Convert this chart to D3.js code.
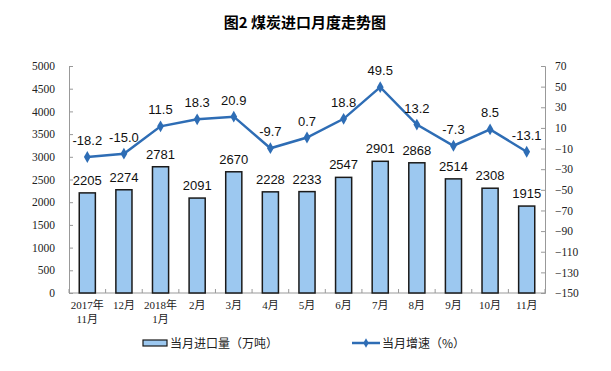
<!DOCTYPE html>
<html lang="zh">
<head>
<meta charset="UTF-8">
<title>煤炭进口月度走势图</title>
<script src="https://cdn.jsdelivr.net/npm/d3@7"></script>
<style>
    body { margin: 0; background: #fff; }
    .tick text { font-family: "Liberation Serif", "Noto Sans CJK SC", serif; font-size: 11.5px; fill: #222; }
    .lbl { font-family: "Liberation Sans", Arial, sans-serif; font-size: 13px; fill: #111; }
</style>
</head>
<body>
<svg width="611" height="371"></svg>
<script>
    var months = ["2017年\n11月", "12月", "2018年\n1月", "2月", "3月", "4月", "5月", "6月", "7月", "8月", "9月", "10月", "11月"];
    var imports = [2205, 2274, 2781, 2091, 2670, 2228, 2233, 2547, 2901, 2868, 2514, 2308, 1915];
    var growth = [-18.2, -15.0, 11.5, 18.3, 20.9, -9.7, 0.7, 18.8, 49.5, 13.2, -7.3, 8.5, -13.1];
    var leftTicks = d3.range(0, 5001, 500);
    var rightTicks = d3.range(-150, 71, 20);

    var svg = d3.select("svg");
    var plotL = 69, plotR = 545, plotT = 66, plotB = 293;

    var x = d3.scaleBand().domain(months).range([plotL, plotR]).paddingInner(0.56).paddingOuter(0.28);
    var yL = d3.scaleLinear().domain([0, 5000]).range([plotB, plotT]);
    var yR = d3.scaleLinear().domain([-150, 70]).range([plotB, plotT]);

    svg.append("text")
        .attr("x", 305).attr("y", 28)
        .attr("text-anchor", "middle")
        .style("font-family", "'Noto Sans CJK SC', sans-serif")
        .style("font-size", "15px").style("font-weight", "bold")
        .text("图2  煤炭进口月度走势图");

    // left axis
    var gl = svg.append("g").attr("transform", "translate(" + plotL + ",0)")
        .call(d3.axisLeft(yL).tickValues(leftTicks).tickFormat(d3.format("d")).tickSize(-4).tickPadding(14));

    // right axis
    var gr = svg.append("g").attr("transform", "translate(" + plotR + ",0)")
        .call(d3.axisRight(yR).tickValues(rightTicks).tickSize(-4).tickPadding(10));

    [gl, gr].forEach(function (g) {
        g.select(".domain").attr("stroke", "#999");
        g.selectAll(".tick line").attr("stroke", "#999");
    });

    // bottom axis line with ticks between categories
    var bx = svg.append("g");
    bx.append("line").attr("x1", plotL).attr("x2", plotR).attr("y1", plotB).attr("y2", plotB).attr("stroke", "#999");
    d3.range(months.length + 1).forEach(function (i) {
        var xx = plotL + (plotR - plotL) * i / months.length;
        bx.append("line").attr("x1", xx).attr("x2", xx).attr("y1", plotB).attr("y2", plotB - 4).attr("stroke", "#999");
    });

    // category labels
    months.forEach(function (m) {
        var t = svg.append("text")
            .attr("text-anchor", "middle")
            .style("font-family", "'Liberation Serif', 'Noto Sans CJK SC', serif")
            .style("font-size", "11px").style("fill", "#222");
        m.split("\n").forEach(function (part, i) {
            t.append("tspan").attr("x", x(m) + x.bandwidth() / 2).attr("y", 309 + i * 14).text(part);
        });
    });

    // bars
    svg.selectAll("rect.bar").data(imports).enter().append("rect")
        .attr("class", "bar")
        .attr("x", function (d, i) { return x(months[i]); })
        .attr("width", x.bandwidth())
        .attr("y", function (d) { return yL(d); })
        .attr("height", function (d) { return plotB - yL(d); })
        .attr("fill", "#9cc8f0")
        .attr("stroke", "#1a1a1a").attr("stroke-width", 1.5);

    svg.selectAll("text.bl").data(imports).enter().append("text")
        .attr("class", "lbl bl")
        .attr("text-anchor", "middle")
        .attr("x", function (d, i) { return x(months[i]) + x.bandwidth() / 2; })
        .attr("y", function (d) { return yL(d) - 8; })
        .text(function (d) { return d; });

    // line
    var cx = function (d, i) { return x(months[i]) + x.bandwidth() / 2; };
    var line = d3.line().x(cx).y(function (d) { return yR(d); });
    svg.append("path").datum(growth)
        .attr("d", line).attr("fill", "none")
        .attr("stroke", "#2e6db5").attr("stroke-width", 2.5);

    svg.selectAll("path.mk").data(growth).enter().append("path")
        .attr("class", "mk")
        .attr("d", d3.symbol().type(d3.symbolDiamond).size(40))
        .attr("transform", function (d, i) { return "translate(" + cx(d, i) + "," + yR(d) + ")"; })
        .attr("fill", "#2e6db5");

    svg.selectAll("text.gl").data(growth).enter().append("text")
        .attr("class", "lbl gl")
        .attr("text-anchor", "middle")
        .attr("x", cx)
        .attr("y", function (d) { return yR(d) - 12; })
        .text(function (d) { return d.toFixed(1); });

    // legend
    var lg = svg.append("g");
    lg.append("rect").attr("x", 143).attr("y", 340).attr("width", 24).attr("height", 6)
        .attr("fill", "#9cc8f0").attr("stroke", "#1a1a1a").attr("stroke-width", 1.2);
    lg.append("text").attr("x", 170).attr("y", 348)
        .style("font-family", "'Noto Sans CJK SC', sans-serif").style("font-size", "12px").style("fill", "#222")
        .text("当月进口量（万吨）");
    lg.append("line").attr("x1", 352).attr("x2", 380).attr("y1", 343).attr("y2", 343)
        .attr("stroke", "#2e6db5").attr("stroke-width", 2.5);
    lg.append("path").attr("d", d3.symbol().type(d3.symbolDiamond).size(25))
        .attr("transform", "translate(366,343)").attr("fill", "#2e6db5");
    lg.append("text").attr("x", 382).attr("y", 348)
        .style("font-family", "'Noto Sans CJK SC', sans-serif").style("font-size", "12px").style("fill", "#222")
        .text("当月增速（%）");
</script>
</body>
</html>
